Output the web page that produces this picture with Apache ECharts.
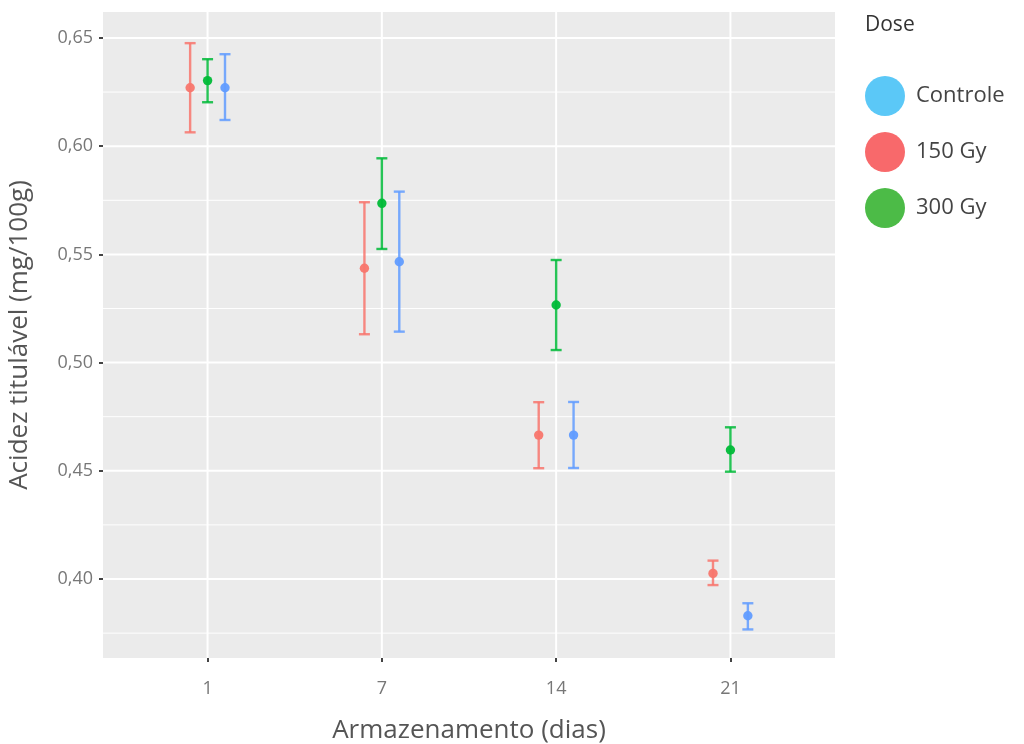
<!DOCTYPE html>
<html>
<head>
<meta charset="utf-8">
<script src="https://cdn.jsdelivr.net/npm/echarts@6/dist/echarts.min.js"></script>
<style>
html,body{margin:0;padding:0;background:#fff;}
#chart{width:1024px;height:744px;}
</style>
</head>
<body>
<div id="chart"></div>
<script>
// ---- data ----
const categories = ['1', '7', '14', '21'];
const doses = ['Controle', '150 Gy', '300 Gy'];

const controleMean = [0.627, 0.5466, 0.4665, 0.383];
const controleLow  = [0.6121, 0.5143, 0.4513, 0.3767];
const controleHigh = [0.6425, 0.5790, 0.4818, 0.3888];

const gy150Mean = [0.627, 0.5436, 0.4665, 0.4026];
const gy150Low  = [0.6064, 0.5131, 0.4512, 0.3972];
const gy150High = [0.6476, 0.5741, 0.4817, 0.4085];

const gy300Mean = [0.6303, 0.5736, 0.5266, 0.4596];
const gy300Low  = [0.6203, 0.5525, 0.5058, 0.4496];
const gy300High = [0.6402, 0.5944, 0.5474, 0.4701];

const yMajorTicks = [0.40, 0.45, 0.50, 0.55, 0.60, 0.65];
const yMinorTicks = [0.375, 0.425, 0.475, 0.525, 0.575, 0.625];
const xTicks = [1, 2, 3, 4];

// ---- styles ----
const seriesColors = {'Controle': '#619CFF', '150 Gy': '#F8766D', '300 Gy': '#00BA38'};
const legendColors = {'Controle': '#5bc8f7', '150 Gy': '#f8696b', '300 Gy': '#4cbb47'};
const dodge = {'150 Gy': -0.1, '300 Gy': 0, 'Controle': 0.1};

function rows(mean, low, high) {
  return categories.map((c, i) => [i + 1, mean[i], low[i], high[i]]);
}

function makeRender(name) {
  const color = seriesColors[name];
  const off = dodge[name];
  return function (params, api) {
    const x = api.value(0) + off;
    const pm = api.coord([x, api.value(1)]);
    const pl = api.coord([x, api.value(2)]);
    const ph = api.coord([x, api.value(3)]);
    const cap = 5.5;
    const ls = {stroke: color, lineWidth: 2.4, opacity: 0.85};
    return {
      type: 'group',
      children: [
        {type: 'line', shape: {x1: pm[0], y1: ph[1], x2: pm[0], y2: pl[1]}, style: ls},
        {type: 'line', shape: {x1: pm[0] - cap, y1: ph[1], x2: pm[0] + cap, y2: ph[1]}, style: ls},
        {type: 'line', shape: {x1: pm[0] - cap, y1: pl[1], x2: pm[0] + cap, y2: pl[1]}, style: ls},
        {type: 'circle', shape: {cx: pm[0], cy: pm[1], r: 4.7}, style: {fill: color, opacity: 0.95}}
      ]
    };
  };
}

const gridData = []
  .concat(yMajorTicks.map(v => [0, v]))
  .concat(yMinorTicks.map(v => [1, v]))
  .concat(xTicks.map(v => [2, v]));

function renderGrid(params, api) {
  const cs = params.coordSys;
  const kind = api.value(0);
  const v = api.value(1);
  if (kind === 2) {
    const p = api.coord([v, 0.5]);
    return {type: 'line', shape: {x1: p[0], y1: cs.y, x2: p[0], y2: cs.y + cs.height},
      style: {stroke: '#ffffff', lineWidth: 2}};
  }
  const p = api.coord([1, v]);
  return {type: 'line', shape: {x1: cs.x, y1: p[1], x2: cs.x + cs.width, y2: p[1]},
    style: {stroke: '#ffffff', lineWidth: kind === 0 ? 2 : 1}};
}

const font = '"Open Sans", "Noto Sans", sans-serif';

const chart = echarts.init(document.getElementById('chart'), null, {renderer: 'canvas'});
chart.setOption({
  animation: false,
  backgroundColor: '#ffffff',
  textStyle: {fontFamily: font},
  title: {
    text: 'Dose', left: 865, top: 15, padding: 0,
    textStyle: {fontFamily: font, fontSize: 21, fontWeight: 'normal', color: '#333333'}
  },
  legend: {
    orient: 'vertical', left: 865, top: 76,
    itemWidth: 40, itemHeight: 40, itemGap: 16, padding: 0,
    icon: 'circle',
    textStyle: {fontFamily: font, fontSize: 22, color: '#444444', padding: [0, 0, 0, 6]},
    data: doses.map(d => ({name: d, itemStyle: {color: legendColors[d]}}))
  },
  grid: {
    left: 103, right: 189, top: 12, bottom: 86,
    outerBoundsMode: 'none', containLabel: false,
    show: true, backgroundColor: '#ebebeb', borderWidth: 0
  },
  xAxis: {
    type: 'value', min: 0.4, max: 4.6,
    name: 'Armazenamento (dias)', nameLocation: 'middle', nameGap: 60,
    nameTextStyle: {fontFamily: font, fontSize: 26, color: '#555555'},
    axisLine: {show: false},
    axisTick: {show: true, customValues: xTicks, length: 4, lineStyle: {color: '#444444', width: 2}},
    axisLabel: {customValues: xTicks, margin: 22, fontSize: 18, color: '#777777',
      formatter: v => categories[Math.round(v) - 1]},
    splitLine: {show: false}
  },
  yAxis: {
    type: 'value', min: 0.3635, max: 0.662,
    name: 'Acidez titulável (mg/100g)', nameLocation: 'middle', nameGap: 70,
    nameTextStyle: {fontFamily: font, fontSize: 26, color: '#555555'},
    axisLine: {show: false},
    axisTick: {show: true, customValues: yMajorTicks, length: 4, lineStyle: {color: '#444444', width: 2}},
    axisLabel: {customValues: yMajorTicks, margin: 10, fontSize: 18, color: '#777777',
      formatter: v => v.toFixed(2).replace('.', ',')},
    splitLine: {show: false},
    minorSplitLine: {show: false}
  },
  series: [
    {type: 'custom', name: '_grid', silent: true, z: 1, renderItem: renderGrid, data: gridData,
      encode: {x: -1, y: -1}, clip: false},
    {type: 'custom', name: '150 Gy', z: 3, renderItem: makeRender('150 Gy'),
      data: rows(gy150Mean, gy150Low, gy150High), encode: {x: 0, y: [1, 2, 3]},
      itemStyle: {color: seriesColors['150 Gy']}},
    {type: 'custom', name: '300 Gy', z: 3, renderItem: makeRender('300 Gy'),
      data: rows(gy300Mean, gy300Low, gy300High), encode: {x: 0, y: [1, 2, 3]},
      itemStyle: {color: seriesColors['300 Gy']}},
    {type: 'custom', name: 'Controle', z: 3, renderItem: makeRender('Controle'),
      data: rows(controleMean, controleLow, controleHigh), encode: {x: 0, y: [1, 2, 3]},
      itemStyle: {color: seriesColors['Controle']}}
  ]
});
</script>
</body>
</html>
